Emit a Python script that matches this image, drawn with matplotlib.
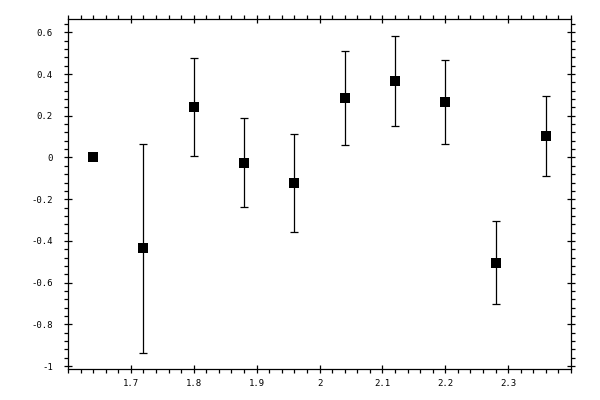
import matplotlib
matplotlib.use("Agg")
import matplotlib.pyplot as plt
from matplotlib.ticker import MultipleLocator, FixedLocator

# data
x = [1.64, 1.72, 1.80, 1.88, 1.96, 2.04, 2.12, 2.20, 2.28, 2.36]
y = [0.0, -0.435, 0.242, -0.025, -0.121, 0.286, 0.367, 0.266, -0.504, 0.104]
err = [0.0, 0.50, 0.236, 0.213, 0.235, 0.225, 0.215, 0.203, 0.200, 0.192]
xticks = [1.7, 1.8, 1.9, 2.0, 2.1, 2.2, 2.3]
yticks = [-1.0, -0.8, -0.6, -0.4, -0.2, 0.0, 0.2, 0.4, 0.6]

plt.rcParams["font.family"] = "DejaVu Sans Mono"

fig = plt.figure(figsize=(6, 4), dpi=100)
ax = fig.add_axes([68/600, 31/400, 503/600, 350/400])

ax.errorbar(x[1:], y[1:], yerr=err[1:], fmt="none", ecolor="black",
            elinewidth=0.9, capsize=3, capthick=0.9)
ax.plot(x, y, "s", color="black", markersize=7.0, markeredgewidth=0,
        linestyle="none")

ax.set_xlim(1.6, 2.4)
ax.set_ylim(-1.014, 0.664)

ax.xaxis.set_major_locator(FixedLocator(xticks))
ax.yaxis.set_major_locator(FixedLocator(yticks))
ax.xaxis.set_minor_locator(MultipleLocator(0.02))
ax.yaxis.set_minor_locator(MultipleLocator(0.04))

def fmt(v, pos):
    return "%g" % round(v, 3)
ax.xaxis.set_major_formatter(plt.FuncFormatter(fmt))
ax.yaxis.set_major_formatter(plt.FuncFormatter(fmt))

for sp in ax.spines.values():
    sp.set_linewidth(0.9)

ax.tick_params(which="major", direction="inout", length=6, width=0.9,
               top=True, right=True, labelsize=6.5)
ax.tick_params(which="minor", direction="out", length=3, width=0.9,
               top=True, right=True)
ax.tick_params(axis="x", which="major", pad=4)
ax.tick_params(axis="y", which="major", pad=8)

fig.savefig("out.png", dpi=100)
